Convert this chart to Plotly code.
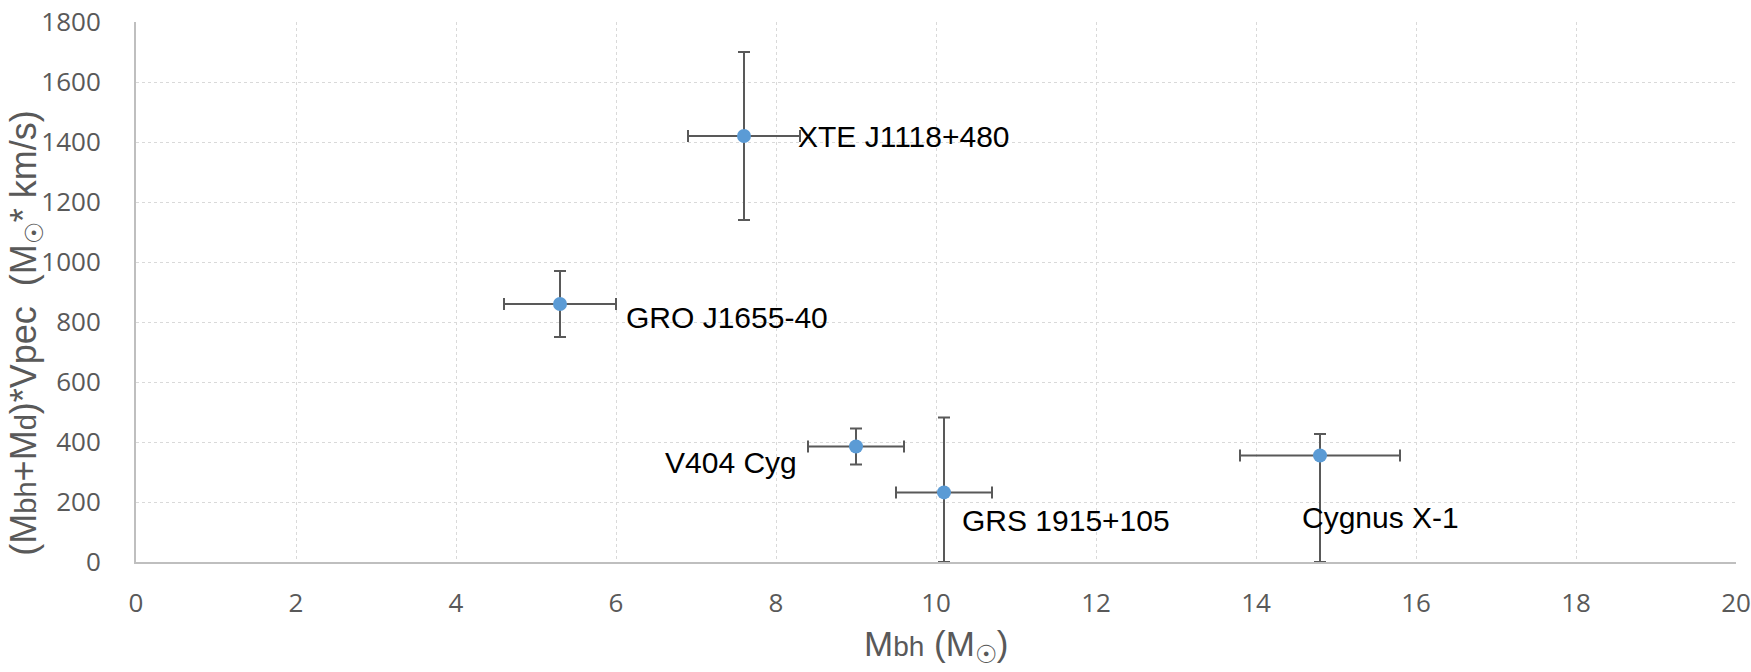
import plotly.graph_objects as go

names = ["XTE J1118+480", "GRO J1655-40", "V404 Cyg", "GRS 1915+105", "Cygnus X-1"]
mbh = [7.6, 5.3, 9.0, 10.1, 14.8]
mbh_err = [0.7, 0.7, 0.6, 0.6, 1.0]
momentum = [1420, 860, 385, 232, 355]
momentum_err_plus = [280, 110, 60, 250, 72]
momentum_err_minus = [280, 110, 60, 232, 355]

x_ticks = list(range(0, 21, 2))
y_ticks = list(range(0, 1801, 200))

# label placement (pixel offsets from each point)
label_pos = {
    "XTE J1118+480": dict(xanchor="left", xshift=52, yshift=0),
    "GRO J1655-40": dict(xanchor="left", xshift=64, yshift=-13),
    "V404 Cyg": dict(xanchor="right", xshift=-57, yshift=-16),
    "GRS 1915+105": dict(xanchor="left", xshift=16, yshift=-28),
    "Cygnus X-1": dict(xanchor="left", xshift=-20, yshift=-62),
}

err_col = "#595959"
fig = go.Figure()
fig.add_trace(go.Scatter(
    x=mbh, y=momentum, mode="markers",
    marker=dict(color="#5b9bd5", size=14),
    error_x=dict(type="data", array=mbh_err, color=err_col, thickness=2, width=6),
    error_y=dict(type="data", symmetric=False, array=momentum_err_plus,
                 arrayminus=momentum_err_minus, color=err_col, thickness=2, width=6),
    cliponaxis=False, showlegend=False,
))

annotations = []
for n, xv, yv in zip(names, mbh, momentum):
    p = label_pos[n]
    annotations.append(dict(x=xv, y=yv, xref="x", yref="y", text=n, showarrow=False,
                            xanchor=p["xanchor"], yanchor="middle",
                            xshift=p["xshift"], yshift=p["yshift"],
                            font=dict(family="Liberation Sans, Arial", size=30, color="black")))

title_font = dict(family="Liberation Sans, Arial", color="#595959")
annotations.append(dict(
    x=0.5, y=-0.156, xref="paper", yref="paper", showarrow=False,
    xanchor="center", yanchor="middle",
    text='M<span style="font-size:28px">bh</span> (M<sub>☉</sub>)',
    font=dict(size=35, **title_font)))
annotations.append(dict(
    x=-0.069, y=0.424, xref="paper", yref="paper", showarrow=False,
    xanchor="center", yanchor="middle", textangle=-90,
    text='(M<span style="font-size:29px">bh</span>+M<span style="font-size:29px">d</span>)*Vpec  (M<sub>☉</sub>* km/s)',
    font=dict(size=36, **title_font)))

tick_font = dict(family="Open Sans, Lato, sans-serif", size=26, color="#595959")
fig.update_layout(
    width=1751, height=672,
    margin=dict(l=136, r=15, t=22, b=110, autoexpand=False),
    paper_bgcolor="white", plot_bgcolor="white",
    annotations=annotations,
    xaxis=dict(range=[0, 20], tickvals=x_ticks, showgrid=True, gridcolor="#d9d9d9",
               griddash="dot", gridwidth=1, showline=True, linecolor="#bfbfbf", linewidth=2,
               zeroline=False, ticks="", tickfont=tick_font, ticklabelstandoff=17,
               automargin=False),
    yaxis=dict(range=[0, 1800], tickvals=y_ticks, showgrid=True, gridcolor="#d9d9d9",
               griddash="dot", gridwidth=1, showline=True, linecolor="#bfbfbf", linewidth=2,
               zeroline=False, ticks="", tickfont=tick_font, ticklabelstandoff=28,
               automargin=False),
)
fig.write_html("out.html")
